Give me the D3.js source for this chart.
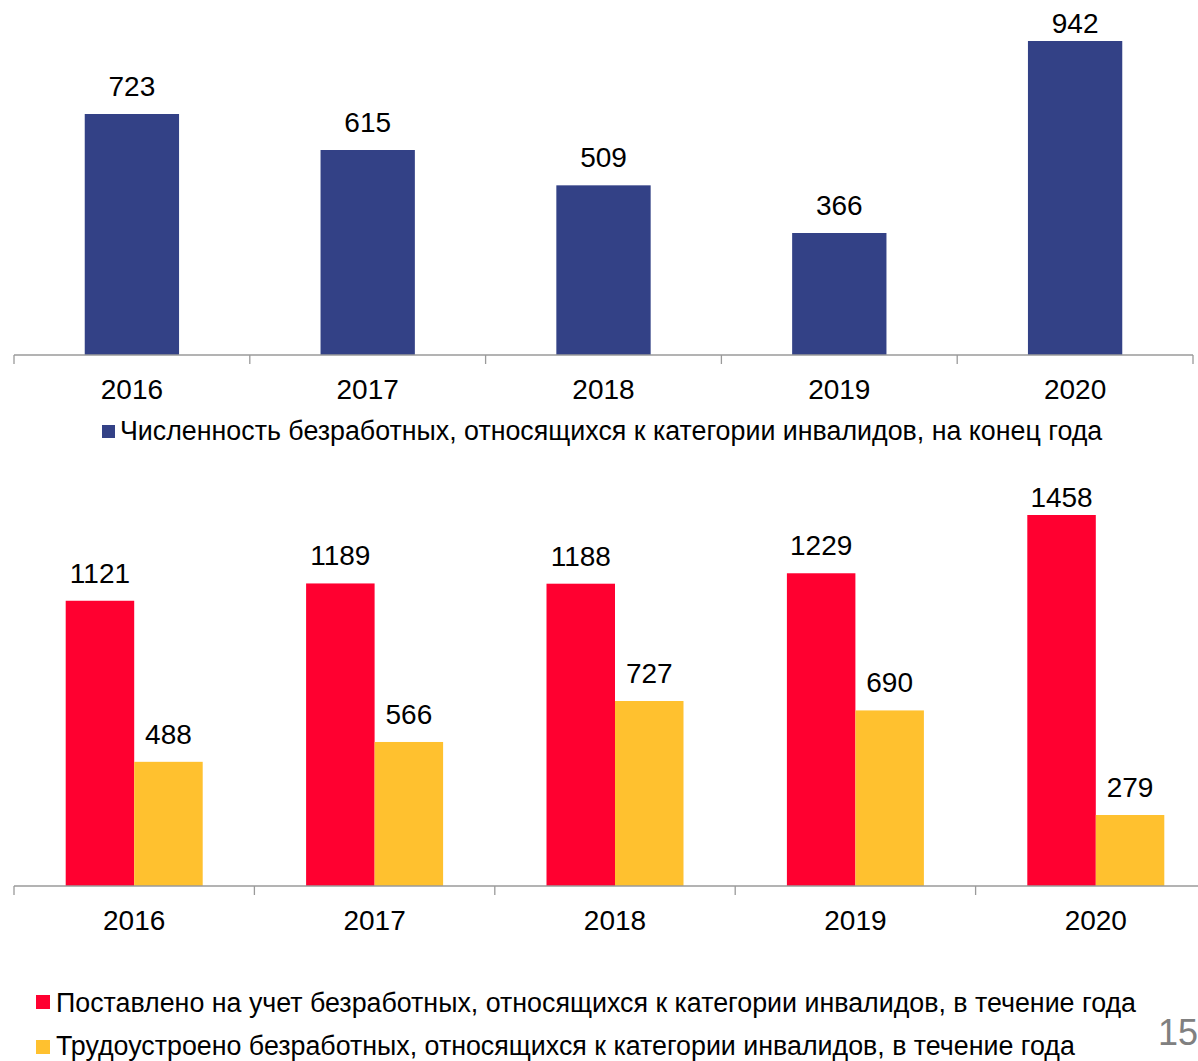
<!DOCTYPE html>
<html><head><meta charset="utf-8">
<script src="https://cdn.jsdelivr.net/npm/d3@7"></script>
<style>body{margin:0;background:#fff;}svg{display:block;font-family:"Liberation Sans",Arial,sans-serif;}</style>
</head><body>
<svg id="c" width="1198" height="1061"></svg>
<script>
const years = ["2016","2017","2018","2019","2020"];
const unemployedEnd = [723, 615, 509, 366, 942];
const registered = [1121, 1189, 1188, 1229, 1458];
const employed = [488, 566, 727, 690, 279];
const legendTop = "Численность безработных, относящихся к категории инвалидов, на конец года";
const legendReg = "Поставлено на учет безработных, относящихся к категории инвалидов, в течение года";
const legendEmp = "Трудоустроено безработных, относящихся к категории инвалидов, в течение года";
const pageNum = "15";

const colBlue = "#334186", colRed = "#FF0030", colYellow = "#FFC12F", axisCol = "#9a9a9a";
const svg = d3.select("#c");
const valFont = 28, yearFont = 28, legFont = 26.8;

// ---- Top chart
{
  const base = 355, plotTop = 33;
  const x = d3.scaleBand().domain(years).range([14, 1193]).paddingInner(0).paddingOuter(0);
  const y = d3.scaleLinear().domain([0, 942]).range([base, 41]);
  const bw = x.bandwidth() * 0.4;
  const g = svg.append("g");
  g.selectAll("rect").data(years).join("rect")
    .attr("x", (d) => x(d) + x.bandwidth()/2 - bw/2)
    .attr("y", (d,i) => y(unemployedEnd[i]))
    .attr("width", bw)
    .attr("height", (d,i) => base - y(unemployedEnd[i]))
    .attr("fill", colBlue);
  g.selectAll("text.v").data(years).join("text").attr("class","v")
    .attr("x", d => x(d) + x.bandwidth()/2)
    .attr("y", (d,i) => Math.max(y(unemployedEnd[i]) - 18, plotTop))
    .attr("text-anchor","middle").attr("font-size", valFont).attr("fill","#000")
    .text((d,i) => unemployedEnd[i]);
  const ax = g.append("g").attr("transform", `translate(0,${base})`)
    .call(d3.axisBottom(x).tickSize(0).tickFormat(""));
  ax.select(".domain").attr("stroke", axisCol).attr("stroke-width", 1.3).attr("d", `M14,0H1193`);
  ax.selectAll(".tick").remove();
  const edges = years.map(d => x(d)).concat([x.range()[1]]);
  g.selectAll("line.t").data(edges).join("line").attr("class","t")
    .attr("x1", d => d).attr("x2", d => d).attr("y1", base).attr("y2", base + 9)
    .attr("stroke", axisCol).attr("stroke-width", 1.3);
  g.selectAll("text.yr").data(years).join("text").attr("class","yr")
    .attr("x", d => x(d) + x.bandwidth()/2).attr("y", 399)
    .attr("text-anchor","middle").attr("font-size", yearFont).text(d => d);
  g.append("rect").attr("x", 102).attr("y", 425).attr("width", 13).attr("height", 13).attr("fill", colBlue);
  g.append("text").attr("x", 120).attr("y", 440).attr("font-size", legFont).text(legendTop);
}

// ---- Bottom chart
{
  const base = 886, plotTop = 507;
  const x = d3.scaleBand().domain(years).range([14, 1216]);
  const y = d3.scaleLinear().domain([0, 1458]).range([base, 515]);
  const bw = 68.5;
  const g = svg.append("g");
  const series = [{vals: registered, col: colRed, off: -bw}, {vals: employed, col: colYellow, off: 0}];
  series.forEach(s => {
    g.selectAll(null).data(years).join("rect")
      .attr("x", d => x(d) + x.bandwidth()/2 + s.off)
      .attr("y", (d,i) => y(s.vals[i]))
      .attr("width", bw)
      .attr("height", (d,i) => base - y(s.vals[i]))
      .attr("fill", s.col);
    g.selectAll(null).data(years).join("text")
      .attr("x", d => x(d) + x.bandwidth()/2 + s.off + bw/2)
      .attr("y", (d,i) => Math.max(y(s.vals[i]) - 18, plotTop))
      .attr("text-anchor","middle").attr("font-size", valFont)
      .text((d,i) => s.vals[i]);
  });
  const ax = g.append("g").attr("transform", `translate(0,${base})`)
    .call(d3.axisBottom(x).tickSize(0).tickFormat(""));
  ax.select(".domain").attr("stroke", axisCol).attr("stroke-width", 1.3).attr("d", `M14,0H1216`);
  ax.selectAll(".tick").remove();
  const edges = years.map(d => x(d)).concat([x.range()[1]]);
  g.selectAll("line.t").data(edges).join("line").attr("class","t")
    .attr("x1", d => d).attr("x2", d => d).attr("y1", base).attr("y2", base + 9)
    .attr("stroke", axisCol).attr("stroke-width", 1.3);
  g.selectAll("text.yr").data(years).join("text").attr("class","yr")
    .attr("x", d => x(d) + x.bandwidth()/2).attr("y", 930)
    .attr("text-anchor","middle").attr("font-size", yearFont).text(d => d);
  g.append("rect").attr("x", 36).attr("y", 995).attr("width", 14).attr("height", 14).attr("fill", colRed);
  g.append("text").attr("x", 56).attr("y", 1012).attr("font-size", legFont).text(legendReg);
  g.append("rect").attr("x", 36).attr("y", 1040).attr("width", 14).attr("height", 14).attr("fill", colYellow);
  g.append("text").attr("x", 56).attr("y", 1055).attr("font-size", legFont).text(legendEmp);
}
svg.append("text").attr("x", 1158).attr("y", 1045).attr("font-size", 36).attr("fill", "#808080").text(pageNum);
</script>
</body></html>
